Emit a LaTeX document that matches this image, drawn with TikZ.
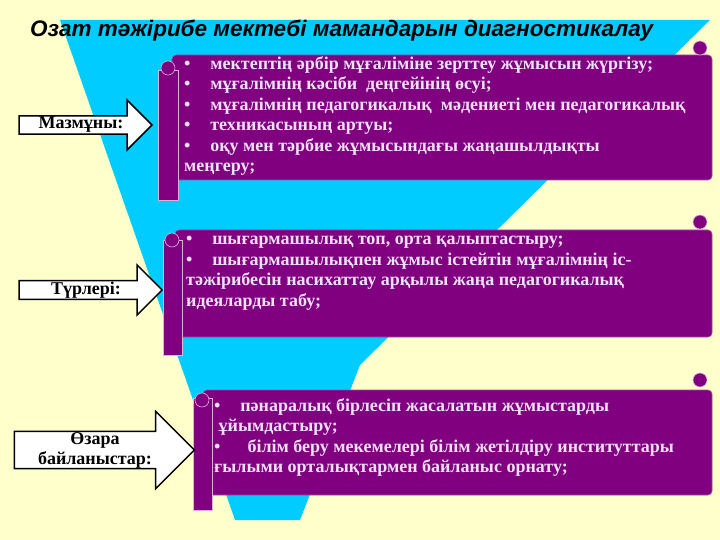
\documentclass[tikz,border=0pt]{standalone}
\usepackage{fontspec}
\setmainfont{Liberation Serif}
\newfontfamily\titlefont{Liberation Sans}
\usetikzlibrary{shapes.arrows}
\definecolor{bg}{HTML}{FFFFCC}
\definecolor{funnel}{HTML}{00CCFF}
\definecolor{scroll}{HTML}{800080}
\definecolor{txt}{HTML}{F0E0F8}
\tikzset{
  scrollbox/.style={fill=scroll, draw=scroll!70!white, line width=0.6pt, rounded corners=4pt},
  curl/.style={fill=scroll, draw=white!70!scroll, line width=0.6pt},
  item/.style={anchor=north west, text=txt, font=\fontsize{18}{20.5}\selectfont\bfseries, align=left, inner sep=0pt},
  arrowbox/.style={single arrow, draw=black, line width=1.5pt, fill=white, single arrow head extend=15pt, inner sep=0pt, font=\fontsize{18}{20}\selectfont\bfseries, align=center},
}
\begin{document}
\begin{tikzpicture}[x=1pt,y=-1pt]
\fill[bg] (0,0) rectangle (720,540);
\useasboundingbox (0,0) rectangle (720,540);
\fill[funnel] (60,20) -- (710,20) -- (360,365) -- (300,520) -- (235,520) -- cycle;
\node[anchor=west, font=\titlefont\fontsize{22.5}{24}\selectfont\bfseries\itshape, inner sep=0pt] (title) at (30,31) {Озат тәжірибе мектебі мамандарын диагностикалау};
% scroll 1
\draw[scrollbox] (172,55) rectangle (712,180);
\draw[curl] (158,70) rectangle (178,200);
\draw[curl] (700,48) circle (7);
\draw[curl] (168,68) circle (7);
\node[item] (s1) at (184,56) {•\hspace{1.1em}мектептің әрбір мұғаліміне зерттеу жұмысын жүргізу;\\
•\hspace{1.1em}мұғалімнің кәсіби\ \ деңгейінің өсуі;\\
•\hspace{1.1em}мұғалімнің педагогикалық\ \ мәдениеті мен педагогикалық\\
•\hspace{1.1em}техникасының артуы;\\
•\hspace{1.1em}оқу мен тәрбие жұмысындағы жаңашылдықты\\
меңгеру;};
% scroll 2
\draw[scrollbox] (175,230) rectangle (712,337);
\draw[curl] (163,240) rectangle (182,355);
\draw[curl] (700,222) circle (7);
\draw[curl] (172,240) circle (7);
\node[item] (s2) at (186,236) {•\hspace{1.1em}шығармашылық топ, орта қалыптастыру;\\
•\hspace{1.1em}шығармашылықпен жұмыс істейтін мұғалімнің іс-\\
тәжірибесін насихаттау арқылы жаңа педагогикалық\\
идеяларды табу;};
% scroll 3
\draw[scrollbox] (203,390) rectangle (712,495);
\draw[curl] (193,398) rectangle (212,510);
\draw[curl] (700,380) circle (7);
\draw[curl] (202,400) circle (7);
\node[item] (s3) at (214,398) {•\hspace{1.1em}пәнаралық бірлесіп жасалатын жұмыстарды\\
\ ұйымдастыру;\\
•\hspace{1.5em}білім беру мекемелері білім жетілдіру институттары\\
ғылыми орталықтармен байланыс орнату;};
% arrows
\node[arrowbox, minimum height=133pt, minimum width=50pt, text width=85pt] (a1) at (81,125) {Мазмұны:};
\node[arrowbox, minimum height=143pt, minimum width=50pt, text width=85pt] (a2) at (86,290) {Түрлері:};
\node[arrowbox, minimum height=180pt, minimum width=64pt, single arrow head extend=20pt, text width=125pt] (a3) at (95,450) {Өзара\\байланыстар:};
\end{tikzpicture}
\end{document}
